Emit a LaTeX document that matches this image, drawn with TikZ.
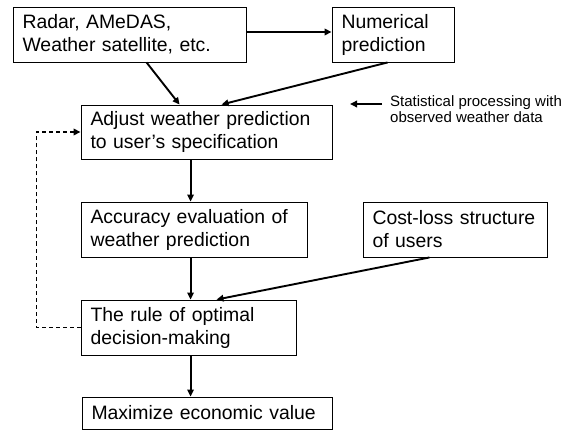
\documentclass[tikz,border=0pt]{standalone}
\usepackage{fontspec}
\setmainfont{Liberation Sans}
\usetikzlibrary{arrows.meta}
\begin{document}
\begin{tikzpicture}[x=1pt,y=-1pt,
  box/.style={draw, line width=0.9pt, align=left, inner xsep=9.5pt, inner ysep=0pt,
    font=\fontsize{19.4}{23}\selectfont},
  arr/.style={line width=1.9pt, -{Triangle[length=7pt,width=6.5pt]}},
  dasharr/.style={line width=1.8pt, dash pattern=on 4pt off 3pt, -{Triangle[length=7pt,width=6.5pt]}},
  note/.style={align=left, inner sep=0pt, font=\fontsize{15}{16.5}\selectfont}]
\useasboundingbox (0,0) rectangle (567,430);
\node[box, text width=214pt, minimum height=55pt] (a) at (129.5,34.5) {Radar, AMeDAS,\\Weather satellite, etc.};
\node[box, text width=103pt, minimum height=55pt] (b) at (393,34.5) {Numerical\\prediction};
\node[box, text width=232pt, minimum height=54pt] (c) at (206.5,132) {Adjust weather prediction\\to user’s specification};
\node[box, text width=207pt, minimum height=55pt] (d) at (194,229.5) {Accuracy evaluation of\\weather prediction};
\node[box, text width=165pt, minimum height=55pt] (e) at (455,229.5) {Cost-loss structure\\of users};
\node[box, text width=196pt, minimum height=55pt] (f) at (188.5,327.5) {The rule of optimal\\decision-making};
\node[box, text width=231pt, minimum height=32pt] (g) at (207,413) {Maximize economic value};
\node[note, anchor=west] (stat) at (390,109) {Statistical processing with\\observed weather data};
\draw[arr] ([yshift=2.5pt]a.east) -- ([yshift=2.5pt]a.east -| b.west);
\draw[arr] ([xshift=134pt]a.south west) -- ([xshift=99pt]c.north west);
\draw[arr] ([xshift=56pt]b.south west) -- ([xshift=141pt]c.north west);
\draw[arr] ([xshift=-8pt,yshift=5pt]stat.west) -- ++(-32,0);
\draw[arr] ([xshift=110pt]c.south west) -- ([xshift=110pt]d.north west);
\draw[arr] ([xshift=110pt]d.south west) -- ([xshift=110pt]f.north west);
\draw[arr] ([xshift=67pt]e.south west) -- ([xshift=136pt]f.north west);
\draw[arr] ([xshift=110pt]f.south west) -- ([xshift=109pt]g.north west);
\draw[dasharr] (f.west) -- ++(-44,0) |- (c.west);
\end{tikzpicture}
\end{document}
